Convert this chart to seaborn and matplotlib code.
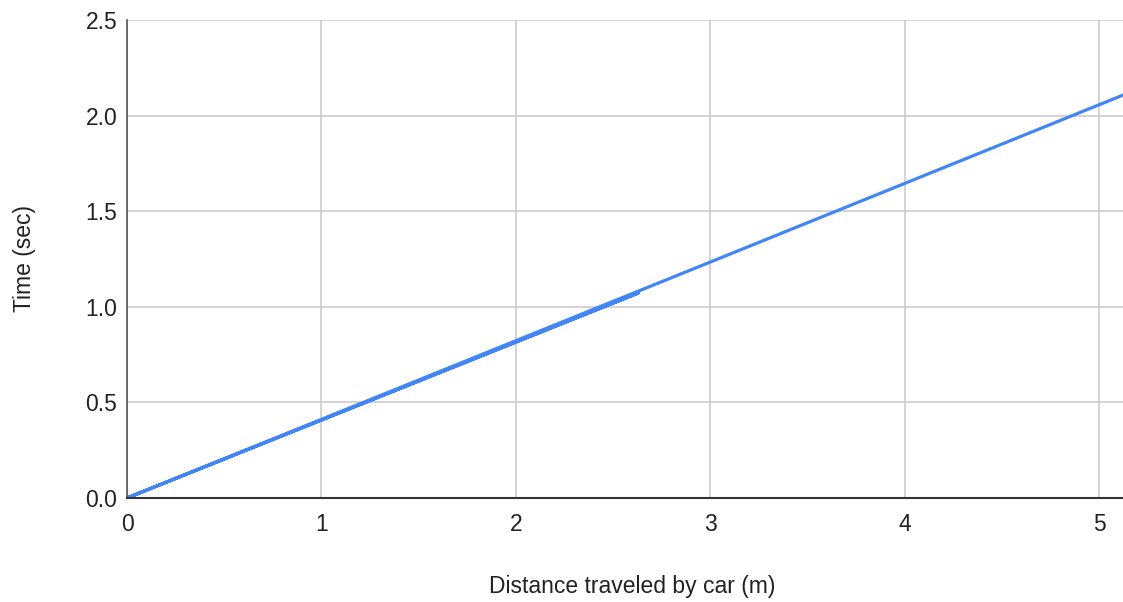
import pandas as pd
import matplotlib
matplotlib.use("Agg")
import matplotlib.pyplot as plt
import seaborn as sns

# Dados (a linha vai até 2.63 m, volta à origem e segue até o fim)
distancia = [0, 2.63, 0, 5.3]
tempo = [0, 1.072, 0, 2.18]
x_ticks = [0, 1, 2, 3, 4, 5]
y_ticks = [0.0, 0.5, 1.0, 1.5, 2.0, 2.5]

df = pd.DataFrame({"Distance traveled by car (m)": distancia, "Time (sec)": tempo})

sns.set_style("whitegrid", {"grid.color": "#cccccc", "axes.edgecolor": "#333333"})
plt.rcParams["font.family"] = ["Liberation Sans", "DejaVu Sans"]

fig = plt.figure(figsize=(11.23, 6.02), dpi=100)
ax = fig.add_axes([127 / 1123, 104 / 602, 996 / 1123, 478 / 602])

sns.lineplot(data=df, x="Distance traveled by car (m)", y="Time (sec)",
             sort=False, estimator=None, color="#4285f4", linewidth=2.3, ax=ax)

ax.set_xlim(0, 5.123)
ax.set_ylim(0, 2.5)
ax.set_xticks(x_ticks)
ax.set_yticks(y_ticks)
ax.set_yticklabels([f"{v:.1f}" for v in y_ticks])
ax.tick_params(axis="both", length=0, labelsize=16.5, colors="#222222")
ax.tick_params(axis="x", pad=11)
ax.tick_params(axis="y", pad=7)
ax.grid(True, color="#cccccc", linewidth=1.2)
for lado in ["top", "right"]:
    ax.spines[lado].set_visible(False)
ax.spines["left"].set_color("#555555")
ax.spines["bottom"].set_color("#333333")
ax.spines["left"].set_linewidth(1.2)
ax.spines["bottom"].set_linewidth(1.5)

ax.set_xlabel("Distance traveled by car (m)", fontsize=16.5, color="#222222", va="center")
ax.set_ylabel("Time (sec)", fontsize=16.5, color="#222222", va="center")
ax.xaxis.set_label_coords((632 - 127) / 996, (498 - 587) / 478)
ax.yaxis.set_label_coords((25 - 127) / 996, 0.5)

plt.savefig("out.png", dpi=100)
